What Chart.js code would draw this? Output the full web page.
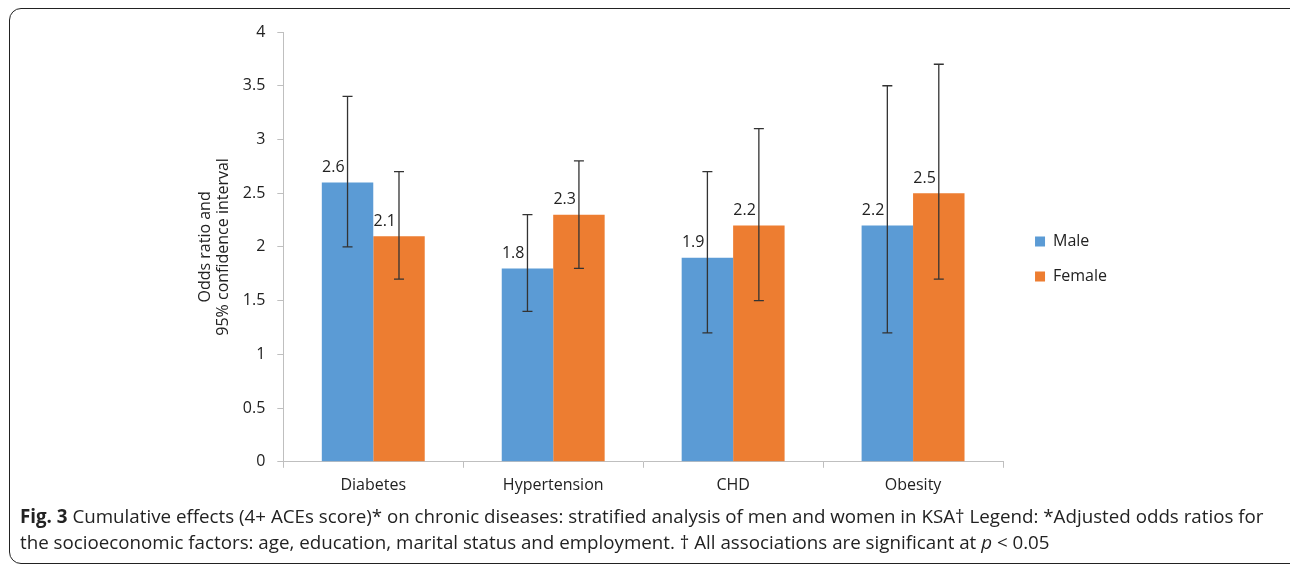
<!DOCTYPE html>
<html>
<head>
<meta charset="utf-8">
<script src="https://cdn.jsdelivr.net/npm/chart.js@4.4.1/dist/chart.umd.min.js"></script>
<style>
  html, body { margin: 0; padding: 0; background: #fff; }
  body { width: 1290px; height: 565px; position: relative; overflow: hidden; font-family: "Open Sans", sans-serif; }
  .frame { position: absolute; left: 9px; top: 8px; width: 1310px; height: 554px; border: 1.5px solid #222; border-radius: 12px; }
  .chart-box { position: absolute; left: 0; top: 0; width: 1290px; height: 509px; }
  .caption { position: absolute; left: 20px; top: 503px; font-size: 18.75px; line-height: 26px; color: #222; white-space: nowrap; }
</style>
</head>
<body>
<div class="frame"></div>
<div class="chart-box"><canvas id="chart"></canvas></div>
<div class="caption">
  <div><b>Fig. 3</b> Cumulative effects (4+ ACEs score)* on chronic diseases: stratified analysis of men and women in KSA† Legend: *Adjusted odds ratios for</div>
  <div>the socioeconomic factors: age, education, marital status and employment. † All associations are significant at <i>p</i> &lt; 0.05</div>
</div>
<script>
// data
const categories = ['Diabetes', 'Hypertension', 'CHD', 'Obesity'];
const maleOR = [2.6, 1.8, 1.9, 2.2];
const maleLow = [2.0, 1.4, 1.2, 1.2];
const maleHigh = [3.4, 2.3, 2.7, 3.5];
const femaleOR = [2.1, 2.3, 2.2, 2.5];
const femaleLow = [1.7, 1.8, 1.5, 1.7];
const femaleHigh = [2.7, 2.8, 3.1, 3.7];
const yTicks = [0, 0.5, 1, 1.5, 2, 2.5, 3, 3.5, 4];

const intervals = [
  { low: maleLow, high: maleHigh },
  { low: femaleLow, high: femaleHigh }
];

// error bars + value labels, drawn from the bar elements
const barExtras = {
  id: 'barExtras',
  afterDatasetsDraw(chart) {
    const ctx = chart.ctx;
    const y = chart.scales.y;
    ctx.save();
    chart.data.datasets.forEach((ds, di) => {
      const meta = chart.getDatasetMeta(di);
      meta.data.forEach((bar, i) => {
        const x = bar.x;
        const yLo = y.getPixelForValue(intervals[di].low[i]);
        const yHi = y.getPixelForValue(intervals[di].high[i]);
        ctx.strokeStyle = '#333';
        ctx.lineWidth = 1.3;
        ctx.beginPath();
        ctx.moveTo(x, yLo); ctx.lineTo(x, yHi);
        ctx.moveTo(x - 5, yLo); ctx.lineTo(x + 5, yLo);
        ctx.moveTo(x - 5, yHi); ctx.lineTo(x + 5, yHi);
        ctx.stroke();
        // value label, sits left of the error bar
        ctx.fillStyle = '#222';
        ctx.font = '16px "Open Sans"';
        ctx.textAlign = 'right';
        ctx.textBaseline = 'middle';
        ctx.fillText(ds.data[i].toFixed(1), x - 3, bar.y - 15);
      });
    });
    ctx.restore();
  }
};

new Chart(document.getElementById('chart'), {
  type: 'bar',
  data: {
    labels: categories,
    datasets: [
      { label: 'Male', data: maleOR, backgroundColor: '#5B9BD5' },
      { label: 'Female', data: femaleOR, backgroundColor: '#ED7D31' }
    ]
  },
  plugins: [barExtras],
  options: {
    responsive: true,
    maintainAspectRatio: false,
    animation: false,
    layout: { padding: { left: 192, top: 32, bottom: 6, right: 173 } },
    datasets: { bar: { categoryPercentage: 0.572, barPercentage: 1.0, borderWidth: 0 } },
    plugins: {
      legend: {
        position: 'right',
        fullSize: false,
        // empty title only nudges the two items down a little
        title: { display: true, text: '', padding: { top: 0, bottom: 5 }, font: { size: 16 } },
        labels: {
          boxWidth: 10, boxHeight: 10, padding: 19, color: '#222',
          font: { family: 'Open Sans', size: 16 }
        }
      },
      tooltip: { enabled: false }
    },
    scales: {
      x: {
        grid: { display: true, drawOnChartArea: false, drawTicks: true, tickLength: 6, color: '#bfbfbf', offset: true },
        border: { color: '#bfbfbf' },
        ticks: { color: '#222', padding: 8, font: { family: 'Open Sans', size: 16 } }
      },
      y: {
        min: 0, max: 4,
        afterBuildTicks(scale) { scale.ticks = yTicks.map(v => ({ value: v })); },
        grid: { display: true, drawOnChartArea: false, drawTicks: true, tickLength: 6, color: '#bfbfbf' },
        border: { color: '#bfbfbf' },
        ticks: { color: '#222', padding: 12, font: { family: 'Open Sans', size: 16 }, callback: v => String(v) },
        title: {
          display: true,
          text: ['Odds ratio and', '95% confidence interval'],
          color: '#222',
          padding: { top: 4, bottom: -2 },
          font: { family: 'Open Sans', size: 16, lineHeight: 1.15 }
        }
      },
      gap: {
        position: 'right', display: true,
        grid: { display: false }, border: { display: false }, ticks: { display: false },
        afterFit(scale) { scale.width = 13; }
      }
    }
  }
});
</script>
</body>
</html>
